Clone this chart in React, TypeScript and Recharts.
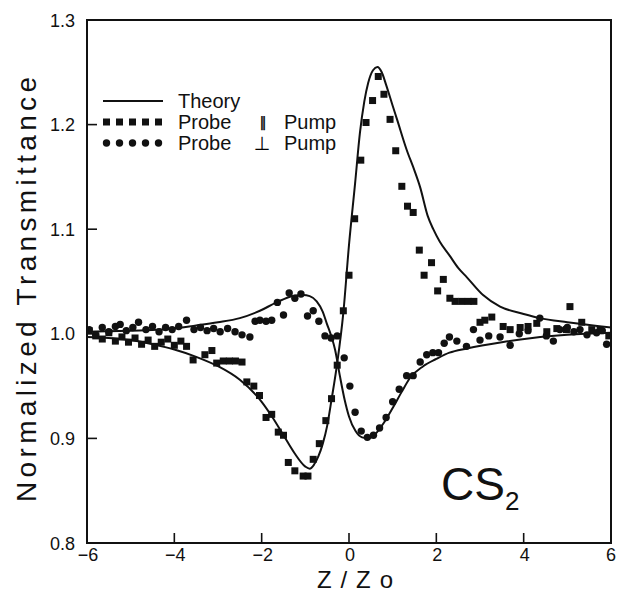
import React from 'react';
import { ComposedChart, Line, Scatter, XAxis, YAxis, ReferenceArea, Legend, Customized } from 'recharts';

const xTicks = [-6, -4, -2, 0, 2, 4, 6];
const xTopTicks = [-4, -2, 0, 2, 4];
const yTicks = [0.8, 0.9, 1.0, 1.1, 1.2, 1.3];
const yRightTicks = [0.85, 0.95, 1.05, 1.15, 1.25];

const theoryParallel: [number, number][] = [
  [-6, 0.997], [-5, 0.994], [-4.5, 0.99], [-4, 0.985], [-3.5, 0.978], [-3, 0.969], [-2.5, 0.956],
  [-2, 0.935], [-1.75, 0.92], [-1.5, 0.903], [-1.25, 0.886], [-1.0, 0.873], [-0.9, 0.871],
  [-0.8, 0.875], [-0.7, 0.883], [-0.6, 0.895], [-0.5, 0.912], [-0.4, 0.937], [-0.27, 0.972],
  [-0.13, 1.02], [0, 1.085], [0.14, 1.144], [0.25, 1.192], [0.35, 1.222], [0.44, 1.24],
  [0.55, 1.252], [0.65, 1.255], [0.75, 1.25], [0.85, 1.238], [1.0, 1.218], [1.1, 1.205],
  [1.32, 1.176], [1.5, 1.156], [1.63, 1.14], [1.8, 1.113], [1.93, 1.1], [2.08, 1.088],
  [2.3, 1.075], [2.5, 1.063], [2.7, 1.054], [3.07, 1.037], [3.46, 1.026], [4.0, 1.019],
  [4.37, 1.015], [5.0, 1.011], [6.0, 1.006],
];

const theoryPerp: [number, number][] = [
  [-6, 1.002], [-5, 1.003], [-4.3, 1.004], [-3.5, 1.008], [-3, 1.011], [-2.5, 1.015],
  [-2.04, 1.022], [-1.66, 1.03], [-1.3, 1.036], [-1.05, 1.037], [-0.9, 1.036], [-0.74, 1.031],
  [-0.6, 1.021], [-0.51, 1.01], [-0.4, 0.997], [-0.32, 0.985], [-0.21, 0.96], [-0.1, 0.937],
  [0, 0.921], [0.15, 0.907], [0.3, 0.901], [0.45, 0.9], [0.6, 0.904], [0.8, 0.915],
  [1.0, 0.929], [1.2, 0.944], [1.4, 0.958], [1.7, 0.969], [2.0, 0.976], [2.3, 0.982],
  [2.7, 0.986], [3.5, 0.992], [4.2, 0.996], [5, 0.999], [6, 1.001],
];

const probeParallel: [number, number][] = [
  [-5.95, 1.003], [-5.8, 0.998], [-5.65, 0.995], [-5.5, 1.001], [-5.35, 0.993], [-5.2, 0.997],
  [-5.05, 0.992], [-4.9, 0.996], [-4.75, 0.99], [-4.6, 0.994], [-4.45, 0.988], [-4.3, 0.992],
  [-4.15, 0.995], [-4.0, 0.989], [-3.85, 0.993], [-3.72, 0.988], [-3.57, 0.975], [-3.3, 0.98],
  [-3.14, 0.984], [-3.03, 0.972], [-2.88, 0.974], [-2.74, 0.974], [-2.6, 0.974], [-2.45, 0.973],
  [-2.34, 0.954], [-2.18, 0.95], [-2.05, 0.941], [-1.9, 0.92], [-1.77, 0.923], [-1.62, 0.906],
  [-1.5, 0.903], [-1.39, 0.877], [-1.24, 0.869], [-1.05, 0.864], [-0.94, 0.864], [-0.82, 0.88],
  [-0.68, 0.895], [-0.53, 0.917], [-0.4, 0.938], [-0.27, 0.97], [-0.13, 1.022], [0.0, 1.056],
  [0.13, 1.11], [0.27, 1.166], [0.39, 1.202], [0.54, 1.223], [0.67, 1.246], [0.8, 1.229],
  [0.94, 1.205], [1.07, 1.175], [1.21, 1.141], [1.34, 1.122], [1.47, 1.116], [1.61, 1.08],
  [1.72, 1.056], [1.89, 1.068], [2.03, 1.041], [2.16, 1.052], [2.31, 1.034], [2.43, 1.031],
  [2.58, 1.031], [2.73, 1.031], [2.86, 1.031], [3.0, 1.011], [3.11, 1.013], [3.27, 1.016],
  [3.53, 1.007], [3.69, 1.004], [3.92, 1.006], [4.1, 1.007], [4.3, 1.01], [4.53, 1.002],
  [4.76, 1.005], [4.98, 1.004], [5.06, 1.026], [5.33, 1.011], [5.56, 1.004], [5.75, 1.004],
  [5.95, 0.998],
];

const probePerp: [number, number][] = [
  [-5.95, 1.004], [-5.8, 0.999], [-5.65, 1.006], [-5.5, 1.002], [-5.35, 1.007], [-5.24, 1.009],
  [-5.1, 1.003], [-4.95, 1.006], [-4.82, 1.011], [-4.65, 1.004], [-4.5, 1.007], [-4.35, 1.002],
  [-4.2, 1.006], [-4.05, 1.004], [-3.9, 1.007], [-3.72, 1.013], [-3.55, 1.004], [-3.4, 1.006],
  [-3.25, 1.003], [-3.1, 1.005], [-2.95, 1.002], [-2.78, 1.005], [-2.61, 1.002], [-2.45, 0.999],
  [-2.27, 0.997], [-2.15, 1.012], [-2.04, 1.013], [-1.9, 1.012], [-1.77, 1.013], [-1.64, 1.03],
  [-1.5, 1.018], [-1.37, 1.039], [-1.24, 1.034], [-1.1, 1.038], [-0.95, 1.017], [-0.82, 1.022],
  [-0.69, 1.012], [-0.55, 0.998], [-0.41, 0.996], [-0.27, 0.998], [-0.11, 0.977], [0.02, 0.95],
  [0.14, 0.925], [0.28, 0.907], [0.42, 0.901], [0.56, 0.903], [0.7, 0.91], [0.85, 0.92],
  [1.0, 0.935], [1.15, 0.947], [1.32, 0.96], [1.47, 0.96], [1.63, 0.973], [1.78, 0.98],
  [1.92, 0.982], [2.05, 0.982], [2.18, 0.991], [2.3, 0.997], [2.47, 0.993], [2.69, 0.988],
  [2.85, 1.004], [3.0, 0.994], [3.2, 0.998], [3.46, 0.997], [3.69, 0.989], [3.9, 1.0],
  [4.1, 1.003], [4.37, 1.015], [4.52, 0.998], [4.68, 0.993], [4.83, 1.004], [5.0, 1.006],
  [5.15, 1.002], [5.29, 1.004], [5.45, 0.999], [5.67, 1.001], [5.8, 1.003], [5.9, 0.99],
];

const toRows = (arr: [number, number][]) => arr.map(([z, t]) => ({ z, t }));

const FONT = "'Liberation Sans', Arial, Helvetica, sans-serif";
const INK = '#111';

const fmtX = (v: number) => (v < 0 ? '\u2212' + Math.abs(v) : String(v));

const BottomTick = (p: any) => {
  const v = p.payload.value;
  const inner = v > -6 && v < 6;
  const dx = v < 0 ? 1 : v >= 6 ? 0 : 1;
  return (
    <g>
      {inner && <line x1={p.x} x2={p.x} y1={p.y} y2={p.y - 10} stroke={INK} strokeWidth={1.6} />}
      <text x={p.x + dx} y={p.y + 18} textAnchor="middle" fontSize={18} fontFamily={FONT} fill={INK}>
        {fmtX(v)}
      </text>
    </g>
  );
};

const TopTick = (p: any) => (
  <line x1={p.x} x2={p.x} y1={p.y} y2={p.y + 8} stroke={INK} strokeWidth={1.6} />
);

const LeftTick = (p: any) => {
  const v = p.payload.value;
  const inner = v > 0.81 && v < 1.29;
  return (
    <g>
      {inner && <line x1={p.x} x2={p.x + 10} y1={p.y} y2={p.y} stroke={INK} strokeWidth={1.6} />}
      <text x={p.x - 12} y={p.y + 6.5} textAnchor="end" fontSize={18} fontFamily={FONT} fill={INK}>
        {v.toFixed(1)}
      </text>
    </g>
  );
};

const RightTick = (p: any) => (
  <line x1={p.x} x2={p.x - 7} y1={p.y} y2={p.y} stroke={INK} strokeWidth={1.6} />
);

const XLabel = (props: any) => {
  const vb = props.viewBox || { x: 0, y: 0, width: 0, height: 0 };
  return (
    <text x={vb.x + vb.width / 2 + 6} y={vb.y + 45} textAnchor="middle" fontSize={24} fontFamily={FONT} fill={INK}
      textLength={76} lengthAdjust="spacing">
      Z/Zo
    </text>
  );
};

const YLabel = (props: any) => {
  const vb = props.viewBox || { x: 0, y: 0, width: 0, height: 0 };
  const cx = vb.x + 36;
  const cy = vb.y + vb.height / 2 + 8;
  return (
    <text x={cx} y={cy} transform={`rotate(-90, ${cx}, ${cy})`} textAnchor="middle" fontSize={28} fontFamily={FONT}
      fill={INK} textLength={425} lengthAdjust="spacing">
      Normalized  Transmittance
    </text>
  );
};

const Square = (p: any) => <rect x={p.cx - 3.5} y={p.cy - 3.5} width={7} height={7} fill={INK} />;
const Dot = (p: any) => <circle cx={p.cx} cy={p.cy} r={3.7} fill={INK} />;

const LegendBox = () => {
  const sq = [3.5, 16.5, 29.5, 42.5, 55.5];
  return (
    <svg width={280} height={70} style={{ overflow: 'visible', display: 'block' }}>
      <line x1={0} x2={60} y1={13} y2={13} stroke={INK} strokeWidth={2} />
      <text x={75} y={20} fontSize={20} fontFamily={FONT} fill={INK}>Theory</text>
      {sq.map((x) => (
        <rect key={'s' + x} x={x - 3.5} y={34 - 3.5} width={7} height={7} fill={INK} />
      ))}
      <text x={75} y={41} fontSize={20} fontFamily={FONT} fill={INK}>Probe</text>
      <text x={160} y={39} fontSize={14} fontFamily="'DejaVu Sans', sans-serif" fill="#000" stroke="#000"
        strokeWidth={0.4} textAnchor="middle">{'\u2225'}</text>
      <text x={181} y={41} fontSize={20} fontFamily={FONT} fill={INK}>Pump</text>
      {sq.map((x) => (
        <circle key={'c' + x} cx={x} cy={55} r={3.7} fill={INK} />
      ))}
      <text x={75} y={62} fontSize={20} fontFamily={FONT} fill={INK}>Probe</text>
      <text x={159} y={62} fontSize={19} fontFamily="'DejaVu Sans', sans-serif" fill="#000" textAnchor="middle">{'\u22A5'}</text>
      <text x={181} y={62} fontSize={20} fontFamily={FONT} fill={INK}>Pump</text>
    </svg>
  );
};

const CS2 = () => (
  <text x={441} y={500} fontSize={46} fontFamily={FONT} fill={INK}>
    CS
    <tspan fontSize={26} dy={10}>2</tspan>
  </text>
);

export default function App() {
  return (
    <div style={{ position: 'absolute', left: 0, top: 0, width: 620, height: 594, overflow: 'hidden' }}>
      <ComposedChart width={620} height={594} margin={{ top: 20, right: 9, bottom: 0, left: 0 }}>
        <XAxis xAxisId="b" type="number" dataKey="z" domain={[-6, 6]} ticks={xTicks} interval={0}
          height={51} tickSize={0} tickMargin={0} axisLine={false} tickLine={false} tick={<BottomTick />}
          allowDataOverflow label={<XLabel />} />
        <XAxis xAxisId="t" orientation="top" type="number" dataKey="z" domain={[-6, 6]} ticks={xTopTicks}
          interval={0} height={0} tickSize={0} tickMargin={0} axisLine={false} tickLine={false} tick={<TopTick />}
          allowDataOverflow />
        <YAxis yAxisId="l" type="number" dataKey="t" domain={[0.8, 1.3]} ticks={yTicks} interval={0}
          width={87} tickSize={0} tickMargin={0} axisLine={false} tickLine={false} tick={<LeftTick />}
          allowDataOverflow label={<YLabel />} />
        <YAxis yAxisId="r" orientation="right" type="number" dataKey="t" domain={[0.8, 1.3]} ticks={yRightTicks}
          interval={0} width={0} tickSize={0} tickMargin={0} axisLine={false} tickLine={false} tick={<RightTick />}
          allowDataOverflow />
        <ReferenceArea xAxisId="b" yAxisId="l" x1={-6} x2={6} y1={0.8} y2={1.3} fill="none" fillOpacity={0}
          stroke={INK} strokeWidth={2} ifOverflow="visible" />
        <Line xAxisId="b" yAxisId="l" data={toRows(theoryParallel)} dataKey="t" type="monotone" dot={false}
          stroke={INK} strokeWidth={2} isAnimationActive={false} legendType="none" />
        <Line xAxisId="b" yAxisId="l" data={toRows(theoryPerp)} dataKey="t" type="monotone" dot={false}
          stroke={INK} strokeWidth={2} isAnimationActive={false} legendType="none" />
        <Scatter xAxisId="b" yAxisId="l" data={toRows(probeParallel)} dataKey="t" shape={<Square />}
          isAnimationActive={false} legendType="none" />
        <Scatter xAxisId="b" yAxisId="l" data={toRows(probePerp)} dataKey="t" shape={<Dot />}
          isAnimationActive={false} legendType="none" />
        <Legend layout="horizontal" verticalAlign="middle" align="center" content={<LegendBox />}
          wrapperStyle={{ position: 'absolute', left: 103, top: 88, width: 280, height: 70 }} />
        <Customized component={<CS2 />} />
      </ComposedChart>
    </div>
  );
}
